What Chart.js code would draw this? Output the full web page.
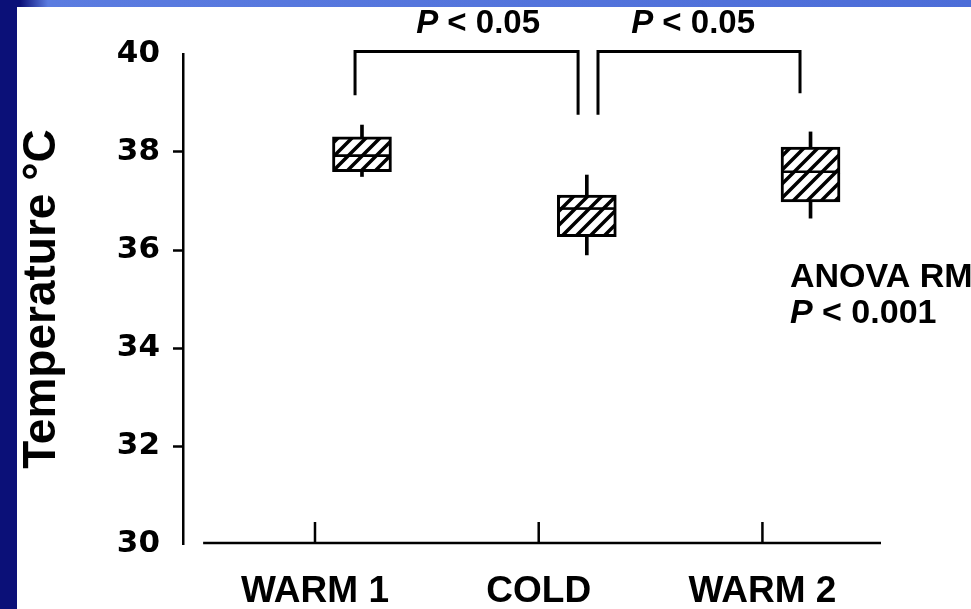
<!DOCTYPE html>
<html>
<head>
<meta charset="utf-8">
<script src="https://cdn.jsdelivr.net/npm/chart.js@4.4.1/dist/chart.umd.min.js"></script>
<style>
body { margin: 0; background: #fff; }
#wrap { position: relative; width: 971px; height: 609px; overflow: hidden; background: #fff; }
#canvasTemp { position: absolute; left: 0; top: 0; }
#topband { position: absolute; left: 0; top: 0; width: 971px; height: 7px;
	background: linear-gradient(to right, #0b1078 0px, #0b1078 20px, #5b7ce0 48px, #4c6dd8 100%); }
#sideband { position: absolute; left: 0; top: 0; width: 17px; height: 609px; background: #0b1078; }
</style>
</head>
<body>
<div id="wrap">
	<canvas id="canvasTemp" width="971" height="609"></canvas>
	<div id="topband"></div>
	<div id="sideband"></div>
</div>
<script>
// data
var categories = ["WARM 1", "COLD", "WARM 2"];
var boxPos = [1.21, 2.215, 3.215];
var whiskerLow = [37.50, 35.90, 36.65];
var q1 = [37.60, 36.27, 36.98];
var median = [37.90, 36.82, 37.57];
var q3 = [38.31, 37.12, 38.10];
var whiskerHigh = [38.55, 37.53, 38.41];
var yTicks = [30, 32, 34, 36, 38, 40];

// comparison brackets (x = scale value, y = temperature)
var bracketLeft = [1.179, 2.265];
var bracketRight = [2.176, 3.168];
var bracketLeftEnd = [39.16, 38.76];
var bracketRightEnd = [38.76, 39.20];
var bracketTop = 40.05;
var bracketText = ["< 0.05", "< 0.05"];
var bracketTextX = [1.729, 2.69];

function makeHatch(){
	var c = document.createElement('canvas');
	c.width = 14; c.height = 14;
	var g = c.getContext('2d');
	g.fillStyle = '#fff';
	g.fillRect(0, 0, 14, 14);
	g.strokeStyle = '#000';
	g.lineWidth = 3.5;
	g.beginPath();
	g.moveTo(-4, 4); g.lineTo(4, -4);
	g.moveTo(-2, 16); g.lineTo(16, -2);
	g.moveTo(10, 18); g.lineTo(18, 10);
	g.stroke();
	return g.createPattern(c, 'repeat');
}

function drawP(ctx, rest, x, y, align, size){
	ctx.font = 'italic bold ' + size + 'px "Liberation Sans", Arial, sans-serif';
	var wP = ctx.measureText('P').width;
	ctx.font = 'bold ' + size + 'px "Liberation Sans", Arial, sans-serif';
	var wR = ctx.measureText(' ' + rest).width;
	var x0 = align === 'center' ? x - (wP + wR) / 2 : x;
	ctx.textAlign = 'left';
	ctx.font = 'italic bold ' + size + 'px "Liberation Sans", Arial, sans-serif';
	ctx.fillText('P', x0, y);
	ctx.font = 'bold ' + size + 'px "Liberation Sans", Arial, sans-serif';
	ctx.fillText(' ' + rest, x0 + wP, y);
}

var annotations = {
	id: 'annotations',
	afterDraw: function(chart){
		var ctx = chart.ctx;
		var sx = chart.scales.x;
		var sy = chart.scales.y;
		ctx.save();
		ctx.strokeStyle = '#000';
		ctx.fillStyle = '#000';
		ctx.lineCap = 'butt';

		// x axis line with upward ticks
		var yb = sy.getPixelForValue(30) - 1;
		ctx.lineWidth = 2.5;
		ctx.beginPath();
		ctx.moveTo(sx.getPixelForValue(0.5), yb);
		ctx.lineTo(sx.right, yb);
		sx.ticks.forEach(function(t){
			var px = sx.getPixelForValue(t.value);
			ctx.moveTo(px, yb);
			ctx.lineTo(px, yb - 21);
		});
		ctx.stroke();

		// brackets
		ctx.lineWidth = 3;
		for (var i = 0; i < bracketLeft.length; i++){
			var xl = sx.getPixelForValue(bracketLeft[i]);
			var xr = sx.getPixelForValue(bracketRight[i]);
			var yt = sy.getPixelForValue(bracketTop);
			ctx.beginPath();
			ctx.moveTo(xl, sy.getPixelForValue(bracketLeftEnd[i]));
			ctx.lineTo(xl, yt);
			ctx.lineTo(xr, yt);
			ctx.lineTo(xr, sy.getPixelForValue(bracketRightEnd[i]));
			ctx.stroke();
			drawP(ctx, bracketText[i], sx.getPixelForValue(bracketTextX[i]), sy.getPixelForValue(40.43), 'center', 33);
		}

		// ANOVA note
		ctx.textAlign = 'left';
		ctx.font = 'bold 34px "Liberation Sans", Arial, sans-serif';
		var ax = sx.getPixelForValue(3.123);
		var ay = sy.getPixelForValue(35.24);
		ctx.fillText('ANOVA RM', ax, ay);
		drawP(ctx, '< 0.001', ax, ay + 36, 'left', 34);
		ctx.restore();
	}
};

function init_chart_temp(){

	if( typeof (Chart) === 'undefined'){ return; }

	console.log('init_chart_temp');

	var ctx = document.getElementById('canvasTemp').getContext('2d');
	var hatch = makeHatch();

	var lower = [], upper = [], whisk = [];
	for (var i = 0; i < categories.length; i++){
		lower.push({x: boxPos[i], y: [q1[i], median[i]]});
		upper.push({x: boxPos[i], y: [median[i], q3[i]]});
		whisk.push({x: boxPos[i], y: [whiskerLow[i], whiskerHigh[i]]});
	}

	var chart_settings = {
		type: 'bar',
		data: {
			datasets: [{
				data: lower,
				backgroundColor: hatch,
				borderColor: '#000',
				borderWidth: 3,
				borderSkipped: 'top',
				barThickness: 59,
				grouped: false,
				order: 0
			}, {
				data: upper,
				backgroundColor: hatch,
				borderColor: '#000',
				borderWidth: 3,
				borderSkipped: false,
				barThickness: 59,
				grouped: false,
				order: 0
			}, {
				data: whisk,
				backgroundColor: '#000',
				borderWidth: 0,
				barThickness: 3,
				grouped: false,
				order: 1
			}]
		},
		options: {
			responsive: false,
			animation: false,
			layout: { padding: { left: 17, top: 54, right: 90, bottom: 0 } },
			plugins: {
				legend: { display: false },
				tooltip: { enabled: false }
			},
			scales: {
				x: {
					type: 'linear',
					min: 0.41,
					max: 3.53,
					offset: false,
					grid: { display: false, offset: false },
					border: { display: false },
					afterBuildTicks: function(scale){
						scale.ticks = [{value: 1}, {value: 2}, {value: 3}];
					},
					afterFit: function(scale){ scale.height = 65; },
					ticks: {
						autoSkip: false,
						maxRotation: 0,
						padding: 18,
						color: '#000',
						font: { family: '"Liberation Sans", Arial, sans-serif', size: 37, weight: 'bold' },
						callback: function(v){ return categories[v - 1]; }
					}
				},
				y: {
					min: 30,
					max: 40,
					afterBuildTicks: function(scale){
						scale.ticks = yTicks.map(function(v){ return {value: v}; });
					},
					afterFit: function(scale){ scale.width = 166; },
					grid: {
						display: true,
						drawOnChartArea: false,
						drawTicks: true,
						tickLength: 10,
						tickWidth: 2.5,
						tickColor: function(c){
							return (c.tick && (c.tick.value === 30 || c.tick.value === 40)) ? 'rgba(0,0,0,0)' : '#000';
						}
					},
					border: { display: true, color: '#000', width: 2.5 },
					ticks: {
						padding: 13,
						color: '#000',
						font: { family: '"DejaVu Sans", Verdana, sans-serif', size: 31, weight: 'bold' }
					},
					title: {
						display: true,
						text: 'Temperature °C',
						color: '#000',
						padding: { top: 0, bottom: 0 },
						font: { family: '"Liberation Sans", Arial, sans-serif', size: 46, weight: 'bold', lineHeight: 1.1 }
					}
				}
			}
		},
		plugins: [annotations]
	};

	var chart = new Chart(ctx, chart_settings);
}

init_chart_temp();
</script>
</body>
</html>
